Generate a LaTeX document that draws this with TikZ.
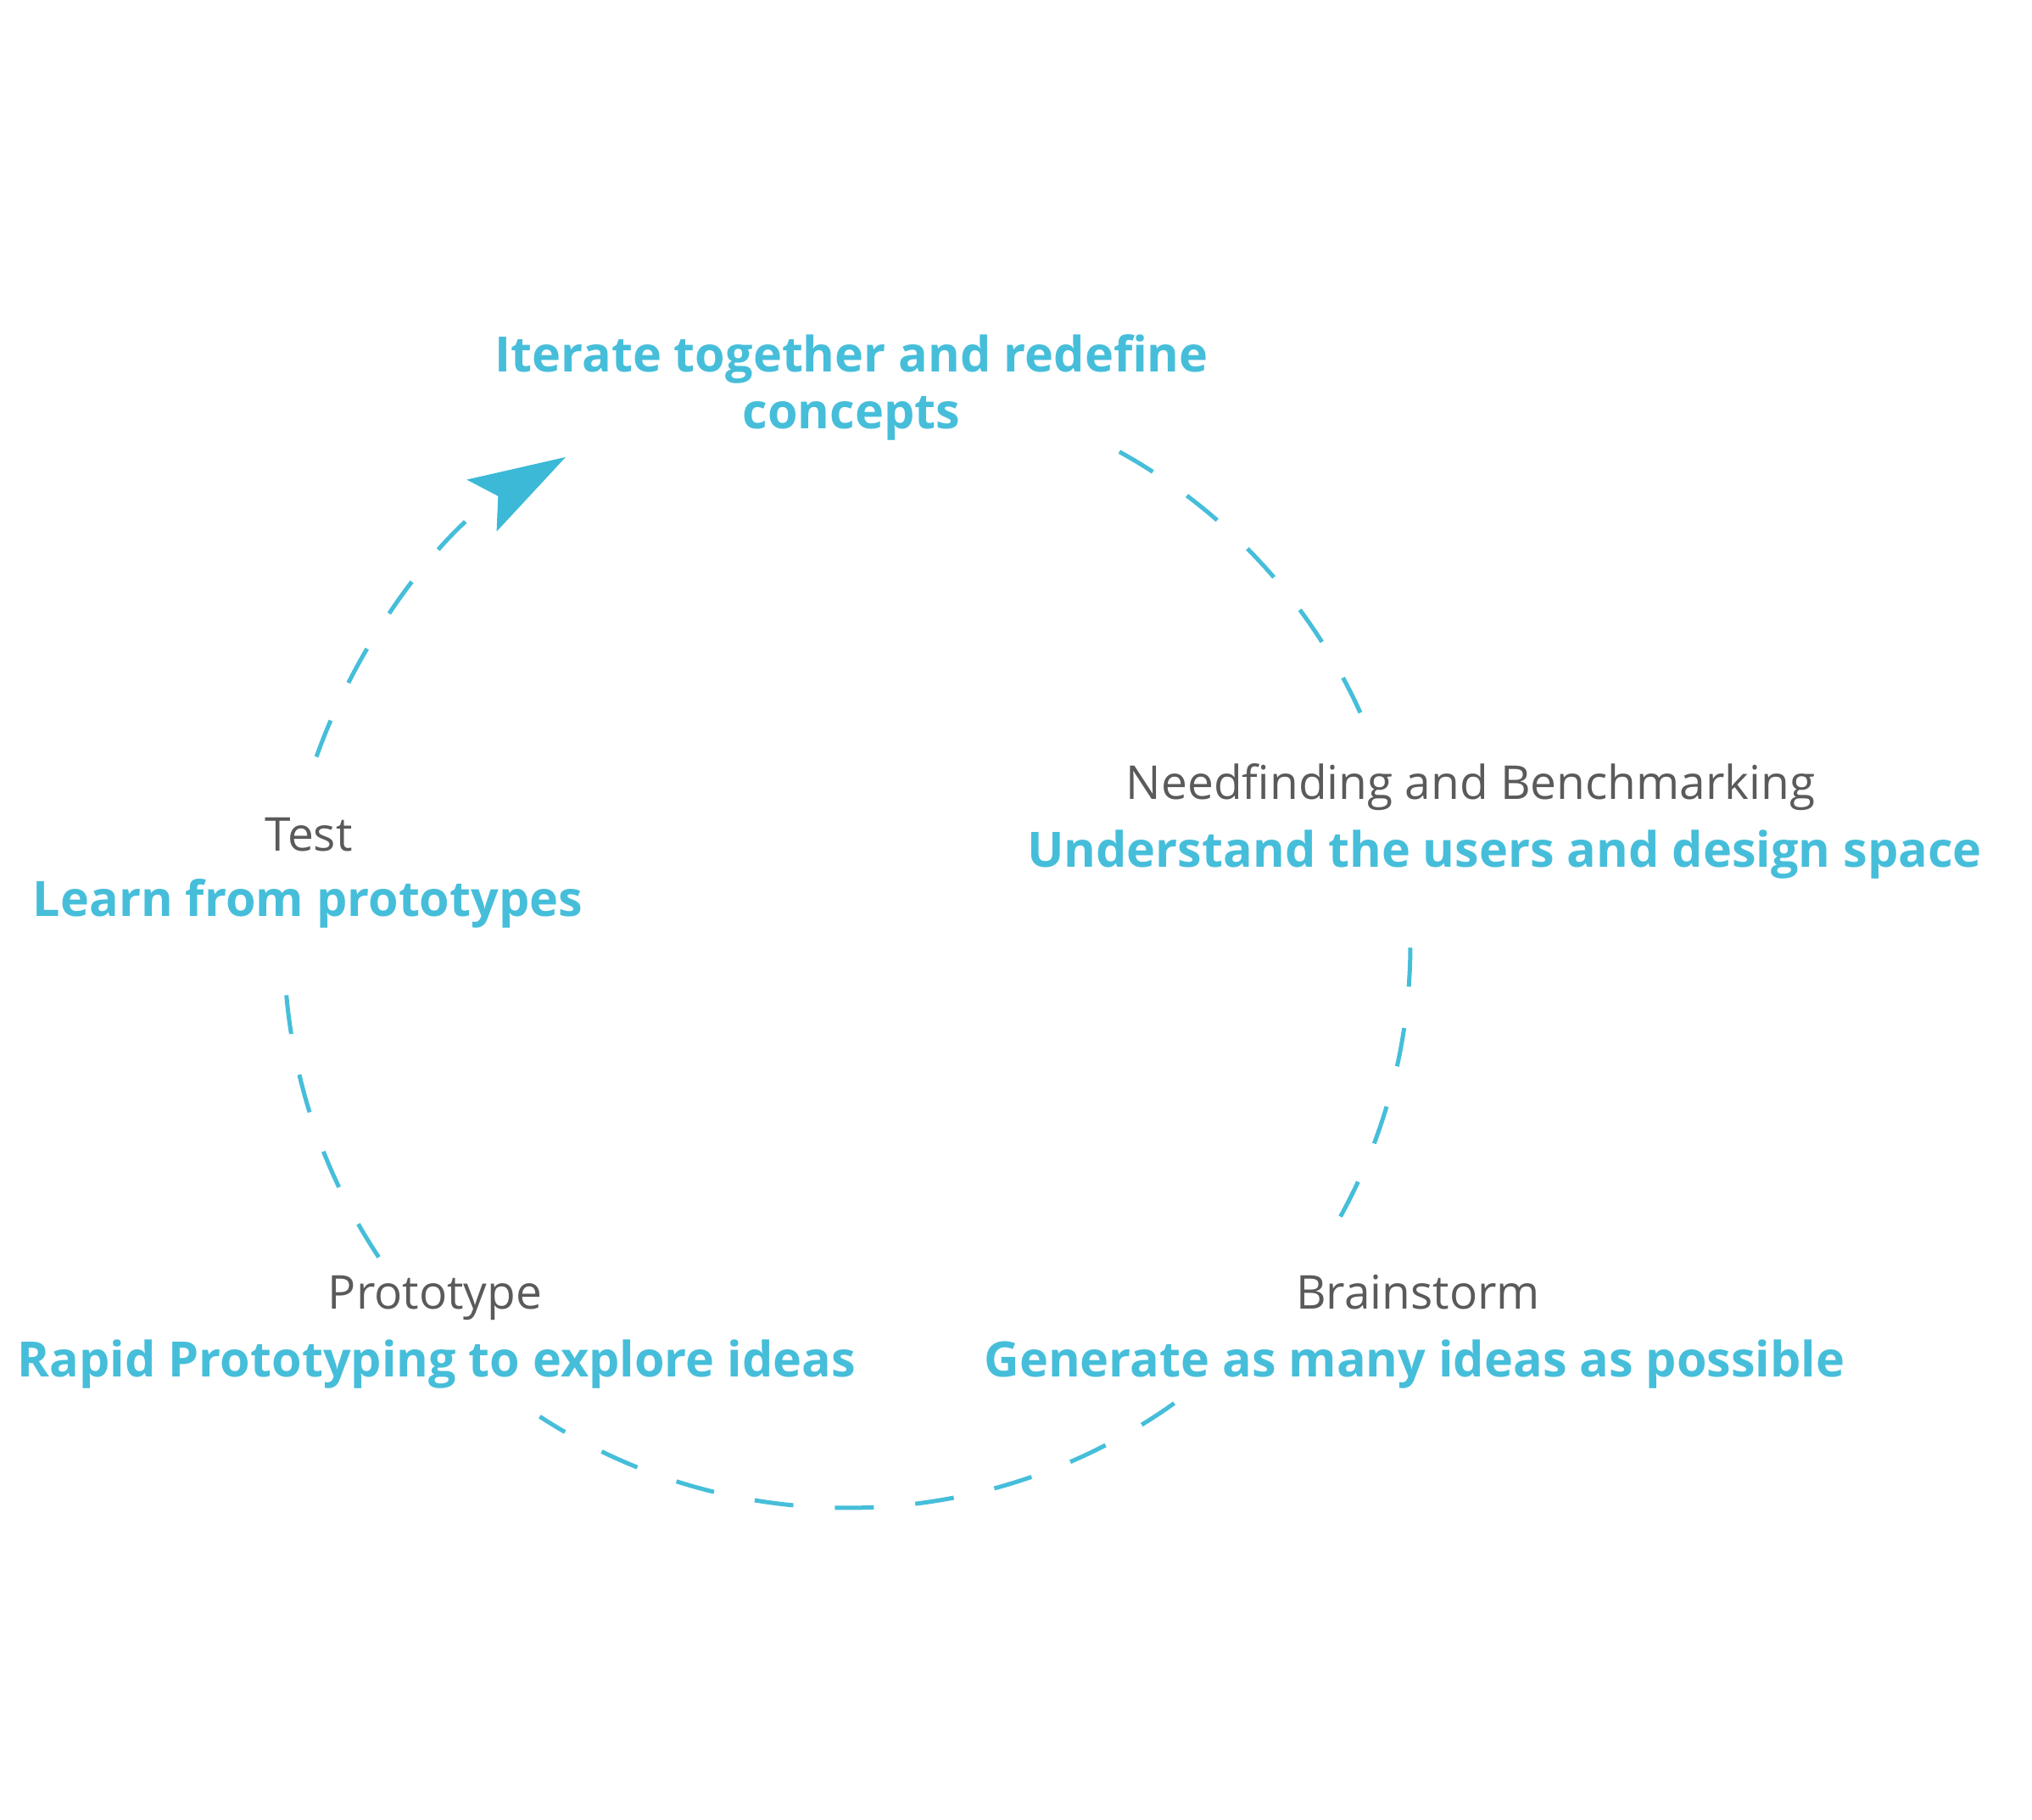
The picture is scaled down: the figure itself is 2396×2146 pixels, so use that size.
\documentclass[tikz,border=0pt]{standalone}
\usepackage{fontspec}
\setmainfont{Open Sans}
\usetikzlibrary{arrows.meta}
\definecolor{cyc}{RGB}{70,190,218}
\definecolor{arr}{RGB}{59,185,214}
\definecolor{lbl}{RGB}{90,90,90}
\tikzset{
  ring/.style={draw=cyc, line width=5pt, dash pattern=on 46pt off 49pt},
  title/.style={text=cyc, font=\bfseries\fontsize{57.5pt}{67pt}\selectfont, anchor=base, inner sep=0pt, align=center},
  phase/.style={text=lbl, font=\fontsize{55pt}{64pt}\selectfont, anchor=base, inner sep=0pt},
}
\begin{document}
\begin{tikzpicture}
\useasboundingbox (0,0) rectangle (2396pt,-2146pt);
\coordinate (c) at (999pt,-1114pt);

% labels
\node[title] (iter) at (1004pt,-505pt) {Iterate together and redefine\\concepts};
\node[phase] (needp) at (1734pt,-942pt) {Needfinding and Benchmarking};
\node[title] (needt) at (1774pt,-1022pt) {Understand the users and design space};
\node[phase] (brainp) at (1672pt,-1543pt) {Brainstorm};
\node[title] (braint) at (1668pt,-1623pt) {Generate as many ideas as possible};
\node[phase] (protop) at (513pt,-1543pt) {Prototype};
\node[title] (protot) at (515pt,-1623pt) {Rapid Prototyping to explore ideas};
\node[phase] (testp) at (364pt,-1003pt) {Test};
\node[title] (testt) at (363pt,-1080pt) {Learn from prototypes};

% dashed cycle
\draw[ring] ([shift={(61.1:664pt)}]c) arc[start angle=61.1, end angle=23.9, radius=664pt];
\draw[ring] ([shift={(-0.3:664pt)}]c) arc[start angle=-0.3, end angle=-29, radius=664pt];
\draw[ring] ([shift={(-54.5:664pt)}]c) arc[start angle=-54.5, end angle=-123.1, radius=664pt];
\draw[ring] ([shift={(-146.3:664pt)}]c) arc[start angle=-146.3, end angle=-175.5, radius=664pt];
\draw[ring, -{Stealth[length=114pt, width=70pt, inset=22pt, fill=arr, color=arr]}]
  ([shift={(160.5:664pt)}]c) arc[start angle=160.5, end angle=120, radius=664pt];
\end{tikzpicture}
\end{document}
